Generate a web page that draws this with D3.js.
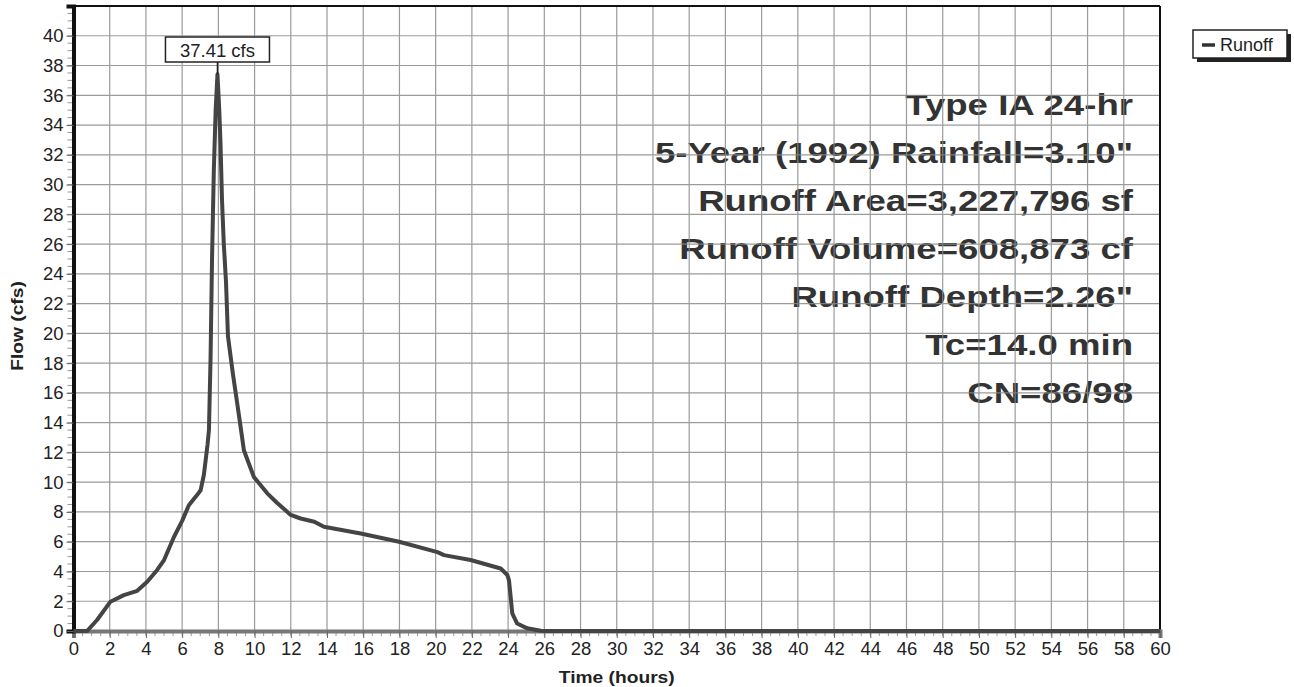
<!DOCTYPE html>
<html>
<head>
<meta charset="utf-8">
<script src="https://cdn.jsdelivr.net/npm/d3@7"></script>
<style>
  html, body { margin: 0; padding: 0; background: #fff; }
  svg { display: block; font-family: "Liberation Sans", Arial, sans-serif; }
</style>
</head>
<body>
<div id="chart"></div>
<script>
// Hydrograph values
var timeHours = [0, 0.75, 1.3, 2.04, 2.78, 3.52, 4.07, 4.62, 5.0, 5.54, 6.0, 6.37, 6.8, 7.02, 7.2, 7.4, 7.48, 7.57,
  7.65, 7.75, 7.85, 7.95, 8.05, 8.12, 8.2, 8.3, 8.42, 8.53, 8.8, 9.04, 9.23, 9.41, 9.96, 10.7, 11.25, 12.0, 12.54,
  13.3, 13.83, 15.86, 17.98, 20.1, 20.46, 21.93, 23.59, 23.96, 24.05, 24.14, 24.23, 24.5, 25.06, 25.8, 26.2, 60];
var flowCfs = [0, 0, 0.74, 1.97, 2.41, 2.7, 3.31, 4.1, 4.77, 6.3, 7.4, 8.45, 9.1, 9.46, 10.5, 12.5, 13.5, 18.4,
  25, 31, 35, 37.41, 35, 32.7, 29, 26, 23.5, 19.8, 17.3, 15.3, 13.7, 12.15, 10.35, 9.25, 8.6, 7.8, 7.56,
  7.34, 7.0, 6.55, 6.0, 5.3, 5.1, 4.77, 4.2, 3.76, 3.4, 2.3, 1.19, 0.5, 0.18, 0.02, 0, 0];

var xTicks = d3.range(0, 61, 2);
var yTicks = d3.range(0, 41, 2);
var peakLabel = "37.41 cfs";
var infoLines = ["Type IA 24-hr", "5-Year (1992) Rainfall=3.10\"", "Runoff Area=3,227,796 sf",
  "Runoff Volume=608,873 cf", "Runoff Depth=2.26\"", "Tc=14.0 min", "CN=86/98"];
var seriesName = "Runoff";

function drawChart() {
  var width = 1294, height = 687;
  var pLeft = 73.5, pRight = 1160, pTop = 6, pBottom = 631;
  var font = "'Liberation Sans', Arial, sans-serif";

  var svg = d3.select("#chart").append("svg").attr("width", width).attr("height", height);

  var x = d3.scaleLinear().domain([0, 60]).range([pLeft, pRight]);
  var y = d3.scaleLinear().domain([0, 42]).range([pBottom, pTop]);

  // annotation text (grid is drawn over it as in the original)
  var info = svg.append("g");
  infoLines.forEach(function (t, i) {
    info.append("text")
      .attr("transform", "translate(1133," + (115 + i * 48) + ") scale(1.22,1)")
      .attr("text-anchor", "end")
      .attr("font-size", 30).attr("font-weight", "bold")
      .attr("fill", "#333")
      .text(t);
  });

  // grid
  var grid = svg.append("g").attr("stroke", "#8a8a8a").attr("stroke-width", 1.2).attr("opacity", 0.85);
  grid.selectAll(".vg").data(xTicks.filter(function (d) { return d > 0 && d < 60; }))
    .enter().append("line")
    .attr("x1", function (d) { return x(d); }).attr("x2", function (d) { return x(d); })
    .attr("y1", pTop).attr("y2", pBottom);
  grid.selectAll(".hg").data(yTicks.filter(function (d) { return d > 0; }))
    .enter().append("line")
    .attr("y1", function (d) { return y(d); }).attr("y2", function (d) { return y(d); })
    .attr("x1", pLeft).attr("x2", pRight);

  // top and right frame
  svg.append("line").attr("x1", pLeft).attr("x2", pRight).attr("y1", pTop).attr("y2", pTop)
    .attr("stroke", "#111").attr("stroke-width", 2);
  svg.append("line").attr("x1", pRight).attr("x2", pRight).attr("y1", pTop).attr("y2", pBottom)
    .attr("stroke", "#111").attr("stroke-width", 2);

  // minor ticks
  svg.append("g").selectAll("line").data(d3.range(0, 60.01, 0.5))
    .enter().append("line")
    .attr("x1", function (d) { return x(d); }).attr("x2", function (d) { return x(d); })
    .attr("y1", pBottom).attr("y2", pBottom + 5)
    .attr("stroke", "#999").attr("stroke-width", 1);
  svg.append("g").selectAll("line").data(d3.range(0, 42.01, 0.5))
    .enter().append("line")
    .attr("y1", function (d) { return y(d); }).attr("y2", function (d) { return y(d); })
    .attr("x1", pLeft - 6).attr("x2", pLeft)
    .attr("stroke", "#999").attr("stroke-width", 1);

  // axes
  var xAxis = svg.append("g").attr("transform", "translate(0," + pBottom + ")")
    .call(d3.axisBottom(x).tickValues(xTicks).tickSize(7).tickPadding(4));
  xAxis.select(".domain").attr("stroke", "#777").attr("stroke-width", 4);
  xAxis.selectAll(".tick line").attr("stroke", "#666");
  xAxis.selectAll("text").attr("font-size", 18.5).attr("fill", "#222").attr("font-family", font);

  var yAxis = svg.append("g").attr("transform", "translate(" + pLeft + ",0)")
    .call(d3.axisLeft(y).tickValues(yTicks).tickSize(7).tickPadding(3));
  yAxis.select(".domain").attr("stroke", "#111").attr("stroke-width", 4);
  yAxis.selectAll(".tick line").attr("stroke", "#666");
  yAxis.selectAll("text").attr("font-size", 18.5).attr("fill", "#222").attr("font-family", font);

  // axis titles
  svg.append("text").attr("transform", "translate(" + x(30) + ",683) scale(1.2,1)")
    .attr("text-anchor", "middle").attr("font-size", 16).attr("font-weight", "bold").attr("fill", "#222")
    .text("Time  (hours)");
  svg.append("text").attr("transform", "translate(23," + y(20.5) + ") rotate(-90) scale(1.2,1)")
    .attr("text-anchor", "middle").attr("font-size", 16).attr("font-weight", "bold").attr("fill", "#222")
    .text("Flow  (cfs)");

  // hydrograph
  var data = timeHours.map(function (t, i) { return { t: t, q: flowCfs[i] }; });
  var line = d3.line().x(function (d) { return x(d.t); }).y(function (d) { return y(d.q); });
  svg.append("path").datum(data)
    .attr("d", line)
    .attr("fill", "none").attr("stroke", "#444").attr("stroke-width", 4)
    .attr("stroke-linejoin", "round");

  // peak label
  var peakIdx = d3.maxIndex(flowCfs);
  var px = x(timeHours[peakIdx]), py = y(flowCfs[peakIdx]);
  svg.append("line").attr("x1", px).attr("x2", px).attr("y1", 62).attr("y2", py)
    .attr("stroke", "#222").attr("stroke-width", 1.5);
  svg.append("rect").attr("x", px - 52).attr("y", 37).attr("width", 104).attr("height", 25)
    .attr("fill", "#fff").attr("stroke", "#222").attr("stroke-width", 1.5);
  svg.append("text").attr("x", px).attr("y", 56.5).attr("text-anchor", "middle")
    .attr("font-size", 18.5).attr("fill", "#222").text(peakLabel);

  // legend
  var lg = svg.append("g").attr("transform", "translate(1193,30)");
  lg.append("rect").attr("x", 4).attr("y", 4).attr("width", 94).attr("height", 28).attr("fill", "#222");
  lg.append("rect").attr("x", 0).attr("y", 0).attr("width", 94).attr("height", 28)
    .attr("fill", "#fff").attr("stroke", "#222").attr("stroke-width", 1.5);
  lg.append("line").attr("x1", 9).attr("x2", 22).attr("y1", 15).attr("y2", 15)
    .attr("stroke", "#333").attr("stroke-width", 3.5);
  lg.append("text").attr("x", 27).attr("y", 21).attr("font-size", 18).attr("fill", "#222").text(seriesName);
}

drawChart();
</script>
</body>
</html>
